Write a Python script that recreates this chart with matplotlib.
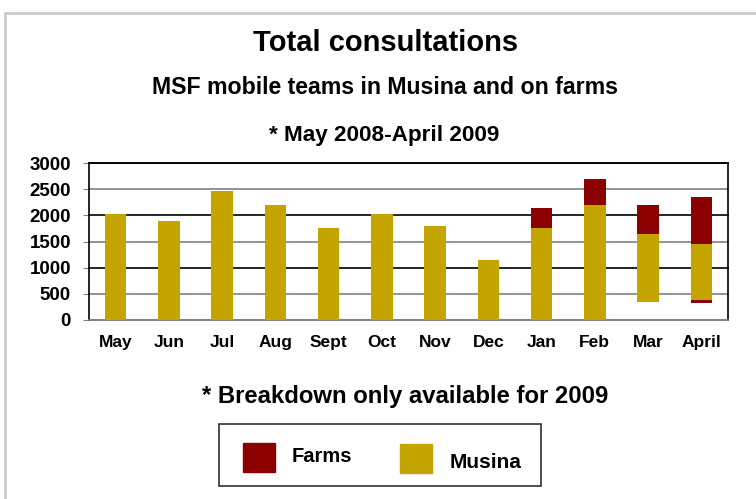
import numpy as np
import matplotlib.pyplot as plt
from matplotlib.patches import Rectangle

plt.rcParams['font.family'] = ['Liberation Sans', 'DejaVu Sans']

# data
months = ['May', 'Jun', 'Jul', 'Aug', 'Sept', 'Oct', 'Nov', 'Dec',
          'Jan', 'Feb', 'Mar', 'April']
# invisible offset under the Mar / April bars (as in the original)
base = [0, 0, 0, 0, 0, 0, 0, 0, 0, 0, 345, 325]
farms_low = [0, 0, 0, 0, 0, 0, 0, 0, 0, 0, 0, 57]
musina = [2020, 1890, 2460, 2195, 1755, 2020, 1795, 1145, 1755, 2195, 1300, 1070]
farms = [0, 0, 0, 0, 0, 0, 0, 0, 385, 495, 555, 898]
yticks = [0, 500, 1000, 1500, 2000, 2500, 3000]

c_farms = '#8b0000'
c_musina = '#c4a500'

fig = plt.figure(figsize=(7.56, 4.99), dpi=100)
ax = fig.add_axes([89/756, 1-320/499, (728-89)/756, (320-163)/499])

x = np.arange(len(months))
w = 0.4
b0 = np.array(base)
b1 = b0 + np.array(farms_low)
b2 = b1 + np.array(musina)
ax.bar(x, farms_low, w, bottom=b0, color=c_farms, zorder=3)
ax.bar(x, musina, w, bottom=b1, color=c_musina, zorder=3)
ax.bar(x, farms, w, bottom=b2, color=c_farms, zorder=3)

for i, v in enumerate(yticks):
    col = 'black' if i % 2 == 0 and v > 0 else '#808080'
    ax.axhline(v, color=col, lw=1.2, zorder=1, clip_on=False)

ax.set_xlim(-0.5, len(months) - 0.5)
ax.set_ylim(0, 3000)
ax.set_yticks(yticks)
ax.set_xticks(x)
ax.set_xticklabels(months, fontsize=12.5, fontweight='bold')
ax.set_yticklabels([str(v) for v in yticks], fontsize=13.5, fontweight='bold')
ax.tick_params(axis='x', length=0, pad=11)
ax.tick_params(axis='y', length=4, color='#808080', pad=9)
for s in ['left', 'top', 'right']:
    ax.spines[s].set_color('black')
    ax.spines[s].set_linewidth(1.2)
ax.spines['bottom'].set_color('#808080')
ax.spines['bottom'].set_linewidth(1.2)

fig.text(386/756, 1-43/499, 'Total consultations', ha='center', va='center',
         fontsize=21, fontweight='bold')
fig.text(385/756, 1-88/499, 'MSF mobile teams in Musina and on farms',
         ha='center', va='center', fontsize=16.7, fontweight='bold')
fig.text(384/756, 1-136/499, '* May 2008-April 2009',
         ha='center', va='center', fontsize=16.2, fontweight='bold')
fig.text(405/756, 1-397/499, '* Breakdown only available for 2009',
         ha='center', va='center', fontsize=17.2, fontweight='bold')

# outer frame
fig.add_artist(Rectangle((5/756, -0.1), 1.2, 1 - 13/499 + 0.1,
                         transform=fig.transFigure, fill=False,
                         edgecolor='#c4ccd0', lw=2))

# legend box
fig.add_artist(Rectangle((219/756, 1-486/499), (541-219)/756, (486-424)/499,
                         transform=fig.transFigure, fill=False,
                         edgecolor='#404040', lw=1.3))
fig.add_artist(Rectangle((243/756, 1-472/499), 32/756, 29/499,
                         transform=fig.transFigure, color=c_farms))
fig.add_artist(Rectangle((400/756, 1-473/499), 32/756, 29/499,
                         transform=fig.transFigure, color=c_musina))
fig.text(292/756, 1-457/499, 'Farms', va='center', fontsize=14.5, fontweight='bold')
fig.text(450/756, 1-462/499, 'Musina', va='center', fontsize=15, fontweight='bold')

plt.savefig('out.png', dpi=100)
